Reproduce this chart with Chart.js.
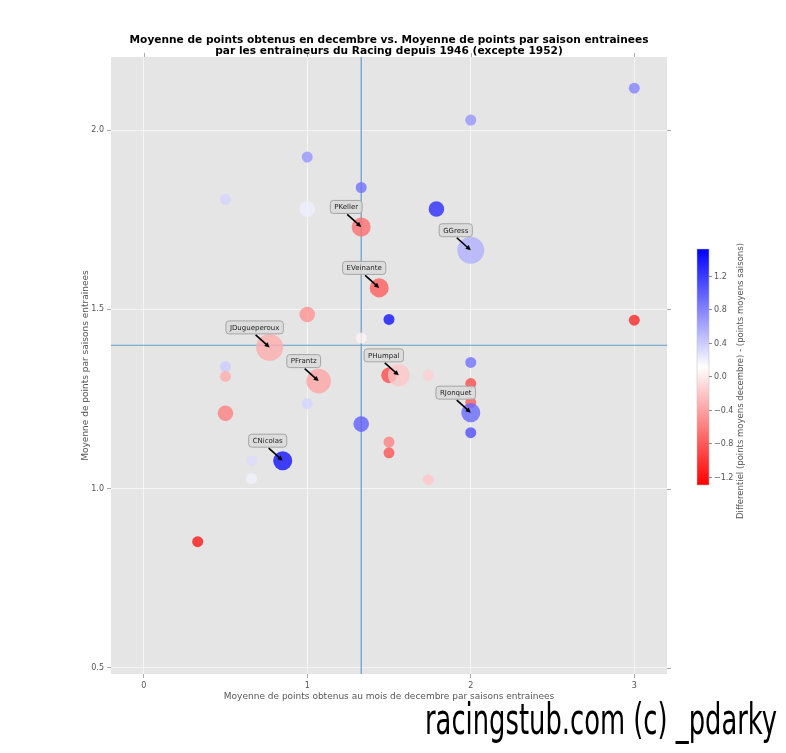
<!DOCTYPE html>
<html><head><meta charset="utf-8">
<script src="https://cdn.jsdelivr.net/npm/chart.js@4.4.0/dist/chart.umd.min.js"></script>
<style>html,body{margin:0;padding:0;background:#fff;}canvas{display:block;}</style>
</head><body>
<canvas id="c" width="786" height="753"></canvas>
<script>
// ---- data ----
const decAvg    = [3.00,2.00,1.00,1.33,0.50,1.00,1.79,1.33,2.00,1.44,1.00,1.50,3.00,1.33,0.77,0.50,0.50,1.07,1.50,1.56,1.74,2.00,2.00,2.00,2.00,2.00,1.00,0.50,1.33,1.50,1.50,0.85,0.66,0.66,1.74,0.33];
const seasonAvg = [2.117,2.028,1.925,1.840,1.807,1.780,1.780,1.730,1.665,1.560,1.486,1.472,1.470,1.420,1.394,1.340,1.313,1.300,1.316,1.316,1.316,1.352,1.293,1.240,1.212,1.156,1.237,1.210,1.180,1.130,1.100,1.078,1.078,1.028,1.025,0.852];
const seasons   = [1,1,1,1,1,2,2,3,6,3,2,1,1,1,6,1,1,5,2,4,1,1,1,1,3,1,1,2,2,1,1,3,1,1,1,1];
const diff      = [0.8,0.7,0.7,0.9,0.35,0.2,1.3,-0.7,0.55,-0.8,-0.5,1.45,-1.1,0.05,-0.35,0.4,-0.35,-0.4,-0.9,-0.2,-0.15,0.9,-0.9,-0.8,0.95,1.1,0.35,-0.6,1.0,-0.6,-0.85,1.45,0.3,0.18,-0.2,-1.2];
const annotNames = ['PKeller','GGress','EVeinante','JDugueperoux','PFrantz','PHumpal','RJonquet','CNicolas'];
const annotIdx   = [7,8,9,14,17,19,24,31];
const meanDec = 1.33, meanSeason = 1.40;
const xTickValues = [0,1,2,3], xTickLabels = ['0','1','2','3'];
const yTickValues = [0.5,1.0,1.5,2.0], yTickLabels = ['0.5','1.0','1.5','2.0'];
const cbTickValues = [-1.2,-0.8,-0.4,0.0,0.4,0.8,1.2];
const cbTickLabels = ['\u22121.2','\u22120.8','\u22120.4','0.0','0.4','0.8','1.2'];
const cbMin = -1.30, cbMax = 1.52;
const xMin = -0.2, xMax = 3.2, yMin = 0.483, yMax = 2.204;

const titleLines = ['Moyenne de points obtenus en decembre vs. Moyenne de points par saison entrainees',
                    'par les entraineurs du Racing depuis 1946 (excepte 1952)'];
const xTitle = 'Moyenne de points obtenus au mois de decembre par saisons entrainees';
const yTitle = 'Moyenne de points par saisons entrainees';
const cbTitle = 'Differentiel (points moyens decembre) - (points moyens saisons)';
const watermark = 'racingstub.com (c) _pdarky';

// ---- styling helpers ----
function cmapRGB(v){ // bwr reversed: low = red, high = blue
  let t = (v - cbMin)/(cbMax - cbMin); t = Math.max(0, Math.min(1, t));
  let r,g,b;
  if (t < 0.5){ r = 255; g = b = Math.round(510*t); }
  else { b = 255; r = g = Math.round(510*(1-t)); }
  return [r,g,b];
}
function cmap(v, a){ const c = cmapRGB(v); return `rgba(${c[0]},${c[1]},${c[2]},${a})`; }

const points = decAvg.map((x,i)=>({x:x, y:seasonAvg[i], r:5.5*Math.sqrt(seasons[i])}));
const colors = diff.map(d=>cmap(d,0.78));

const FONT = 'DejaVu Sans';

const bgPlugin = {
  id:'bg',
  beforeDraw(chart){
    const {ctx, chartArea:a} = chart;
    ctx.save();
    ctx.fillStyle = '#fff'; ctx.fillRect(0,0,chart.width,chart.height);
    ctx.fillStyle = '#e5e5e5';
    ctx.fillRect(a.left, a.top, a.right-a.left, a.bottom-a.top);
    ctx.restore();
  }
};

const decoPlugin = {
  id:'deco',
  afterDatasetsDraw(chart){
    const {ctx, chartArea:a, scales:{x, y}} = chart;
    ctx.save();
    // top/right tick marks
    ctx.strokeStyle = '#aaa'; ctx.lineWidth = 1;
    xTickValues.forEach(v=>{ const px = Math.round(x.getPixelForValue(v))+0.5; ctx.beginPath(); ctx.moveTo(px,a.top); ctx.lineTo(px,a.top-4); ctx.stroke(); });
    yTickValues.forEach(v=>{ const py = Math.round(y.getPixelForValue(v))+0.5; ctx.beginPath(); ctx.moveTo(a.right,py); ctx.lineTo(a.right+4,py); ctx.stroke(); });

    // annotations
    annotIdx.forEach((idx,k)=>{
      const px = x.getPixelForValue(decAvg[idx]);
      const py = y.getPixelForValue(seasonAvg[idx]);
      const cx = px - 15, cy = py - 20;
      ctx.font = `7px "${FONT}"`;
      const tw = ctx.measureText(annotNames[k]).width;
      const w = tw + 8, h = 13;
      const bx = cx - w/2, by = cy - h/2;
      ctx.beginPath();
      if (ctx.roundRect) ctx.roundRect(bx,by,w,h,3); else ctx.rect(bx,by,w,h);
      ctx.fillStyle = 'rgba(218,218,218,0.9)'; ctx.fill();
      ctx.strokeStyle = '#a5a5a5'; ctx.lineWidth = 1; ctx.stroke();
      ctx.fillStyle = '#222'; ctx.textAlign = 'center'; ctx.textBaseline = 'middle';
      ctx.fillText(annotNames[k], cx, cy+0.5);
      // arrow
      const sx = cx + 1, sy = by + h + 1;
      const ang = Math.atan2(py - sy, px - sx);
      ctx.strokeStyle = '#000'; ctx.fillStyle = '#000'; ctx.lineWidth = 1.6;
      ctx.beginPath(); ctx.moveTo(sx,sy); ctx.lineTo(px - 3*Math.cos(ang), py - 3*Math.sin(ang)); ctx.stroke();
      ctx.beginPath();
      ctx.moveTo(px,py);
      ctx.lineTo(px - 5*Math.cos(ang) + 2.5*Math.sin(ang), py - 5*Math.sin(ang) - 2.5*Math.cos(ang));
      ctx.lineTo(px - 5*Math.cos(ang) - 2.5*Math.sin(ang), py - 5*Math.sin(ang) + 2.5*Math.cos(ang));
      ctx.closePath(); ctx.fill();
    });

    // title
    ctx.fillStyle = '#000'; ctx.textAlign = 'center'; ctx.textBaseline = 'middle';
    ctx.font = `bold 10.6px "${FONT}"`;
    const mid = (a.left + a.right)/2;
    ctx.fillText(titleLines[0], mid, 40);
    ctx.fillText(titleLines[1], mid, 51);

    // colorbar
    const cbL = 697, cbR = 709, cbT = 249, cbB = 485;
    const cbPix = v => cbB - (v - cbMin)/(cbMax - cbMin)*(cbB - cbT);
    const grad = ctx.createLinearGradient(0, cbB, 0, cbT);
    for (let i=0;i<=20;i++){ const v = cbMin + (cbMax-cbMin)*i/20; grad.addColorStop(i/20, cmap(v,1)); }
    ctx.fillStyle = grad; ctx.fillRect(cbL, cbT, cbR-cbL, cbB-cbT);
    ctx.strokeStyle = '#bbb'; ctx.lineWidth = 0.5; ctx.strokeRect(cbL, cbT, cbR-cbL, cbB-cbT);
    ctx.font = `8px "${FONT}"`; ctx.textAlign = 'left'; ctx.textBaseline = 'middle';
    cbTickValues.forEach((v,i)=>{
      const py = Math.round(cbPix(v))+0.5;
      ctx.strokeStyle = '#888'; ctx.lineWidth = 1;
      ctx.beginPath(); ctx.moveTo(cbR, py); ctx.lineTo(cbR+3, py); ctx.stroke();
      ctx.fillStyle = '#555'; ctx.fillText(cbTickLabels[i], cbR+5, py);
    });
    ctx.save();
    ctx.translate(741, 381);
    ctx.rotate(-Math.PI/2);
    ctx.font = `8.5px "${FONT}"`; ctx.fillStyle = '#555'; ctx.textAlign = 'center';
    ctx.fillText(cbTitle, 0, 0);
    ctx.restore();

    // watermark
    ctx.save();
    ctx.font = `42px "Liberation Sans Narrow", "DejaVu Sans Condensed", "Liberation Sans"`;
    const ww = ctx.measureText(watermark).width;
    const target = 352;
    ctx.translate(425, 734);
    ctx.scale(target/ww, 1);
    ctx.fillStyle = '#000'; ctx.textAlign = 'left'; ctx.textBaseline = 'alphabetic';
    ctx.fillText(watermark, 0, 0);
    ctx.restore();

    ctx.restore();
  }
};

new Chart(document.getElementById('c'), {
  type:'bubble',
  data:{ datasets:[
    { type:'bubble', data: points, backgroundColor: colors, borderWidth: 0, order: 1 },
    { type:'line', data:[{x:meanDec,y:yMin},{x:meanDec,y:yMax}], borderColor:'rgba(85,150,200,0.9)', borderWidth:1.2, pointRadius:0, fill:false, order:2 },
    { type:'line', data:[{x:xMin,y:meanSeason},{x:xMax,y:meanSeason}], borderColor:'rgba(85,150,200,0.9)', borderWidth:1.2, pointRadius:0, fill:false, order:2 }
  ]},
  options:{
    responsive:false, animation:false, devicePixelRatio:1,
    layout:{ padding:{ left:78, top:57, right:119, bottom:49 } },
    plugins:{ legend:{display:false}, tooltip:{enabled:false} },
    scales:{
      x:{ type:'linear', min:xMin, max:xMax,
          afterBuildTicks: s=>{ s.ticks = xTickValues.map(v=>({value:v})); },
          afterFit: s=>{ s.height = 30; },
          ticks:{ callback: v => xTickLabels[xTickValues.indexOf(v)], font:{family:FONT,size:8}, color:'#555', padding:3, maxRotation:0 },
          grid:{ color:'rgba(255,255,255,0.6)', lineWidth:1, tickLength:4, tickColor:'#aaa' },
          border:{ display:false },
          title:{ display:true, text:xTitle, font:{family:FONT,size:9}, color:'#555', padding:{top:0,bottom:2} } },
      y:{ type:'linear', min:yMin, max:yMax,
          afterBuildTicks: s=>{ s.ticks = yTickValues.map(v=>({value:v})); },
          afterFit: s=>{ s.width = 33; },
          ticks:{ callback: v => yTickLabels[yTickValues.indexOf(v)], font:{family:FONT,size:8}, color:'#555', padding:3 },
          grid:{ color:'rgba(255,255,255,0.6)', lineWidth:1, tickLength:4, tickColor:'#aaa' },
          border:{ display:false },
          title:{ display:true, text:yTitle, font:{family:FONT,size:9}, color:'#555', padding:{top:2,bottom:0} } }
    }
  },
  plugins:[bgPlugin, decoPlugin]
});
</script>
</body></html>
